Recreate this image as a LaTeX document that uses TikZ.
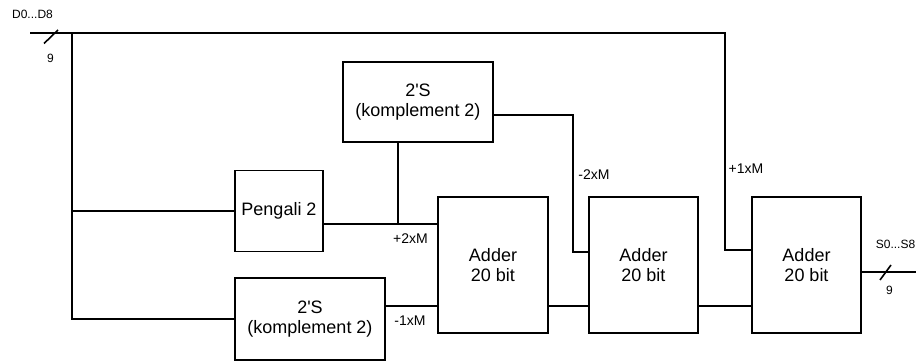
\documentclass[tikz,border=0pt]{standalone}
\usepackage{fontspec}
\setmainfont{Liberation Sans}
\begin{document}
\begin{tikzpicture}[x=1pt,y=-1pt,
  blk/.style={draw, line width=1.6pt, align=center, inner sep=0pt, font=\fontsize{18}{20}\selectfont},
  wire/.style={line width=1.6pt},
  lbl/.style={inner sep=0pt, font=\fontsize{14}{16}\selectfont},
  port/.style={inner sep=0pt, font=\fontsize{12}{14}\selectfont}]
\useasboundingbox (0,0) rectangle (916,363);
% blocks
\node[blk, minimum width=150pt, minimum height=80pt] (top2s) at (418,102) {2\textquotesingle S\\(komplement 2)};
\node[blk, minimum width=88pt, minimum height=81pt] (peng) at (279,211) {Pengali 2};
\node[blk, minimum width=150pt, minimum height=82pt] (bot2s) at (310,319) {2\textquotesingle S\\(komplement 2)};
\node[blk, minimum width=110pt, minimum height=136pt] (add1) at (493,265) {Adder\\20 bit};
\node[blk, minimum width=109pt, minimum height=136pt] (add2) at (643.5,265) {Adder\\20 bit};
\node[blk, minimum width=109pt, minimum height=136pt] (add3) at (806.5,265) {Adder\\20 bit};
% helper coordinates
\coordinate (dstart) at (30,33);
\coordinate (ltap) at (72,33);
\coordinate (rtap) at (725,33);
\coordinate (mid) at (72,211);
\coordinate (y224) at (0,224);
\coordinate (y306) at (0,306);
\coordinate (y252) at (0,252);
\coordinate (y250) at (0,250);
\coordinate (y115) at (0,115);
\coordinate (j2) at (398,224);
\coordinate (k2) at (573,115);
\coordinate (out) at (916,272);
\coordinate (s1a) at (44,43.5);
\coordinate (s1b) at (58,30);
\coordinate (s2a) at (880,280);
\coordinate (s2b) at (891,265);
% wires
\draw[wire] (dstart) -- (rtap) |- (add3.west |- y250);
\draw[wire] (ltap) |- (bot2s.west);
\draw[wire] (mid) -- (peng.west);
\draw[wire] (peng.east |- y224) -- (add1.west |- y224);
\draw[wire] (top2s.south -| j2) -- (j2);
\draw[wire] (top2s.east |- y115) -- (k2) |- (add2.west |- y252);
\draw[wire] (bot2s.east |- y306) -- (add1.west |- y306);
\draw[wire] (add1.east |- y306) -- (add2.west |- y306);
\draw[wire] (add2.east |- y306) -- (add3.west |- y306);
\draw[wire] (add3.east |- out) -- (out);
\draw[wire] (s1a) -- (s1b);
\draw[wire] (s2a) -- (s2b);
% labels
\node[port] (lin) at (32.5,14.7) {D0...D8};
\node[port] (nin) at (50.5,58.7) {9};
\node[port] (lout) at (895.5,244.3) {S0...S8};
\node[port] (nout) at (889.5,290) {9};
\node[lbl] (l2p) at (410.5,239) {+2xM};
\node[lbl] (l1m) at (410,320.7) {-1xM};
\node[lbl] (l2m) at (594,175) {-2xM};
\node[lbl] (l1p) at (746,169) {+1xM};
\end{tikzpicture}
\end{document}
